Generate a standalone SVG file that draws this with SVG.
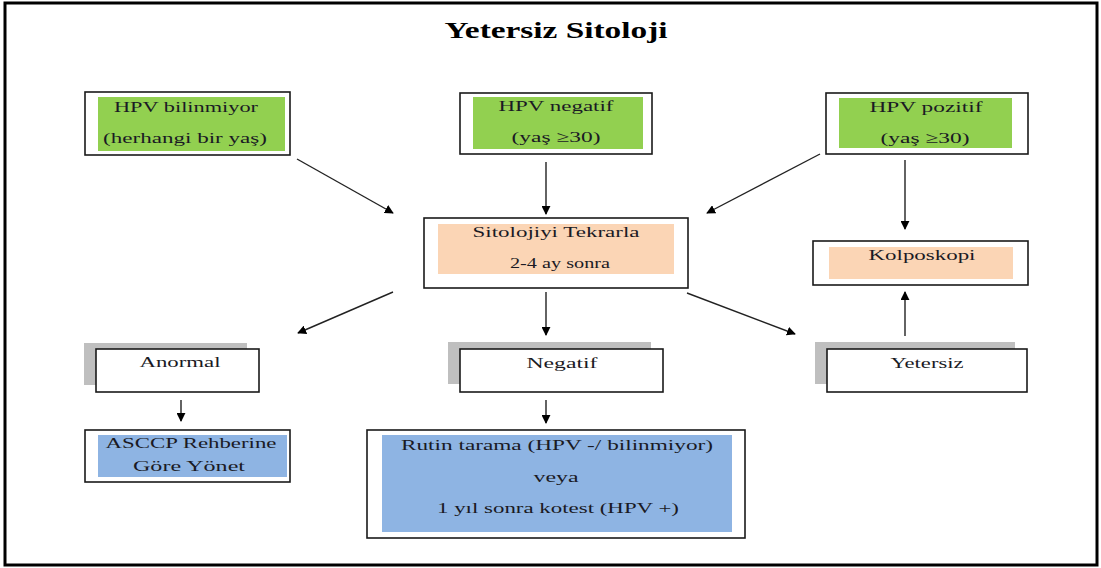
<svg xmlns="http://www.w3.org/2000/svg" width="1101" height="568" viewBox="0 0 1101 568">
  <style>
    .frame { fill: #ffffff; stroke: #000000; stroke-width: 3; }
    .box { fill: #ffffff; stroke: #1a1a1a; stroke-width: 1.6; }
    .shadow { fill: #bfbfbf; }
    .green { fill: #92d050; }
    .peach { fill: #fbd5b5; }
    .blue { fill: #8eb4e3; }
    .label { font-family: "Liberation Serif", "Times New Roman", serif; font-size: 15.5px; fill: #1a1a24; text-anchor: middle; }
    .title { font-family: "Liberation Serif", "Times New Roman", serif; font-size: 24px; font-weight: bold; fill: #000000; text-anchor: middle; }
    .edge { stroke: #222222; stroke-width: 1.4; fill: none; marker-end: url(#arrow); }
  </style>
  <defs>
    <marker id="arrow" viewBox="0 0 10 10" refX="9" refY="5" markerWidth="9" markerHeight="9" markerUnits="userSpaceOnUse" orient="auto">
      <path d="M0,0 L10,5 L0,10 z" fill="#000000"/>
    </marker>
  </defs>

  <rect class="frame" x="5" y="3" width="1092" height="562"/>
  <text class="title" x="556" y="38" textLength="223" lengthAdjust="spacingAndGlyphs">Yetersiz Sitoloji</text>

  <g id="hpv-unknown">
    <rect class="box" x="85" y="92" width="205" height="63"/>
    <rect class="green" x="98" y="97" width="187" height="54"/>
    <text class="label" x="186" y="112" textLength="144" lengthAdjust="spacingAndGlyphs">HPV bilinmiyor</text>
    <text class="label" x="185" y="143" textLength="164" lengthAdjust="spacingAndGlyphs">(herhangi bir yaş)</text>
  </g>

  <g id="hpv-negative">
    <rect class="box" x="460" y="93" width="192" height="61"/>
    <rect class="green" x="473" y="97" width="170" height="52"/>
    <text class="label" x="556" y="111" textLength="115" lengthAdjust="spacingAndGlyphs">HPV negatif</text>
    <text class="label" x="556" y="142" textLength="89" lengthAdjust="spacingAndGlyphs">(yaş ≥30)</text>
  </g>

  <g id="hpv-positive">
    <rect class="box" x="826" y="93" width="202" height="61"/>
    <rect class="green" x="839" y="98" width="173" height="50"/>
    <text class="label" x="926" y="112" textLength="113" lengthAdjust="spacingAndGlyphs">HPV pozitif</text>
    <text class="label" x="925" y="143" textLength="89" lengthAdjust="spacingAndGlyphs">(yaş ≥30)</text>
  </g>

  <g id="repeat-cytology">
    <rect class="box" x="424" y="218" width="264" height="70"/>
    <rect class="peach" x="438" y="224" width="236" height="50"/>
    <text class="label" x="556" y="237" textLength="167" lengthAdjust="spacingAndGlyphs">Sitolojiyi Tekrarla</text>
    <text class="label" x="560" y="268" textLength="100" lengthAdjust="spacingAndGlyphs">2-4 ay sonra</text>
  </g>

  <g id="colposcopy">
    <rect class="box" x="813" y="241" width="215" height="44"/>
    <rect class="peach" x="829" y="247" width="184" height="32"/>
    <text class="label" x="922" y="260" textLength="107" lengthAdjust="spacingAndGlyphs">Kolposkopi</text>
  </g>

  <g id="abnormal">
    <rect class="shadow" x="84" y="343" width="163" height="42"/>
    <rect class="box" x="96" y="349" width="163" height="43"/>
    <text class="label" x="180" y="367" textLength="81" lengthAdjust="spacingAndGlyphs">Anormal</text>
  </g>

  <g id="negative">
    <rect class="shadow" x="448" y="342" width="203" height="42"/>
    <rect class="box" x="460" y="349" width="203" height="43"/>
    <text class="label" x="562" y="368" textLength="71" lengthAdjust="spacingAndGlyphs">Negatif</text>
  </g>

  <g id="inadequate">
    <rect class="shadow" x="815" y="342" width="200" height="42"/>
    <rect class="box" x="827" y="349" width="200" height="43"/>
    <text class="label" x="927" y="368" textLength="73" lengthAdjust="spacingAndGlyphs">Yetersiz</text>
  </g>

  <g id="asccp">
    <rect class="box" x="85" y="430" width="205" height="52"/>
    <rect class="blue" x="98" y="435" width="189" height="42"/>
    <text class="label" x="191" y="448" textLength="171" lengthAdjust="spacingAndGlyphs">ASCCP Rehberine</text>
    <text class="label" x="189" y="471" textLength="112" lengthAdjust="spacingAndGlyphs">Göre Yönet</text>
  </g>

  <g id="routine">
    <rect class="box" x="367" y="430" width="378" height="108"/>
    <rect class="blue" x="382" y="435" width="350" height="97"/>
    <text class="label" x="557" y="450" textLength="312" lengthAdjust="spacingAndGlyphs">Rutin tarama (HPV -/ bilinmiyor)</text>
    <text class="label" x="556" y="482" textLength="45" lengthAdjust="spacingAndGlyphs">veya</text>
    <text class="label" x="558" y="513" textLength="242" lengthAdjust="spacingAndGlyphs">1 yıl sonra kotest (HPV +)</text>
  </g>

  <g id="connectors">
    <line class="edge" x1="297" y1="159" x2="393" y2="213"/>
    <line class="edge" x1="546" y1="162" x2="546" y2="214"/>
    <line class="edge" x1="820" y1="154" x2="707" y2="213"/>
    <line class="edge" x1="905" y1="160" x2="905" y2="229"/>
    <line class="edge" x1="393" y1="292" x2="298" y2="333"/>
    <line class="edge" x1="546" y1="292" x2="546" y2="335"/>
    <line class="edge" x1="687" y1="293" x2="795" y2="334"/>
    <line class="edge" x1="905" y1="336" x2="905" y2="292"/>
    <line class="edge" x1="181" y1="400" x2="181" y2="421"/>
    <line class="edge" x1="546" y1="400" x2="546" y2="423"/>
  </g>
</svg>
